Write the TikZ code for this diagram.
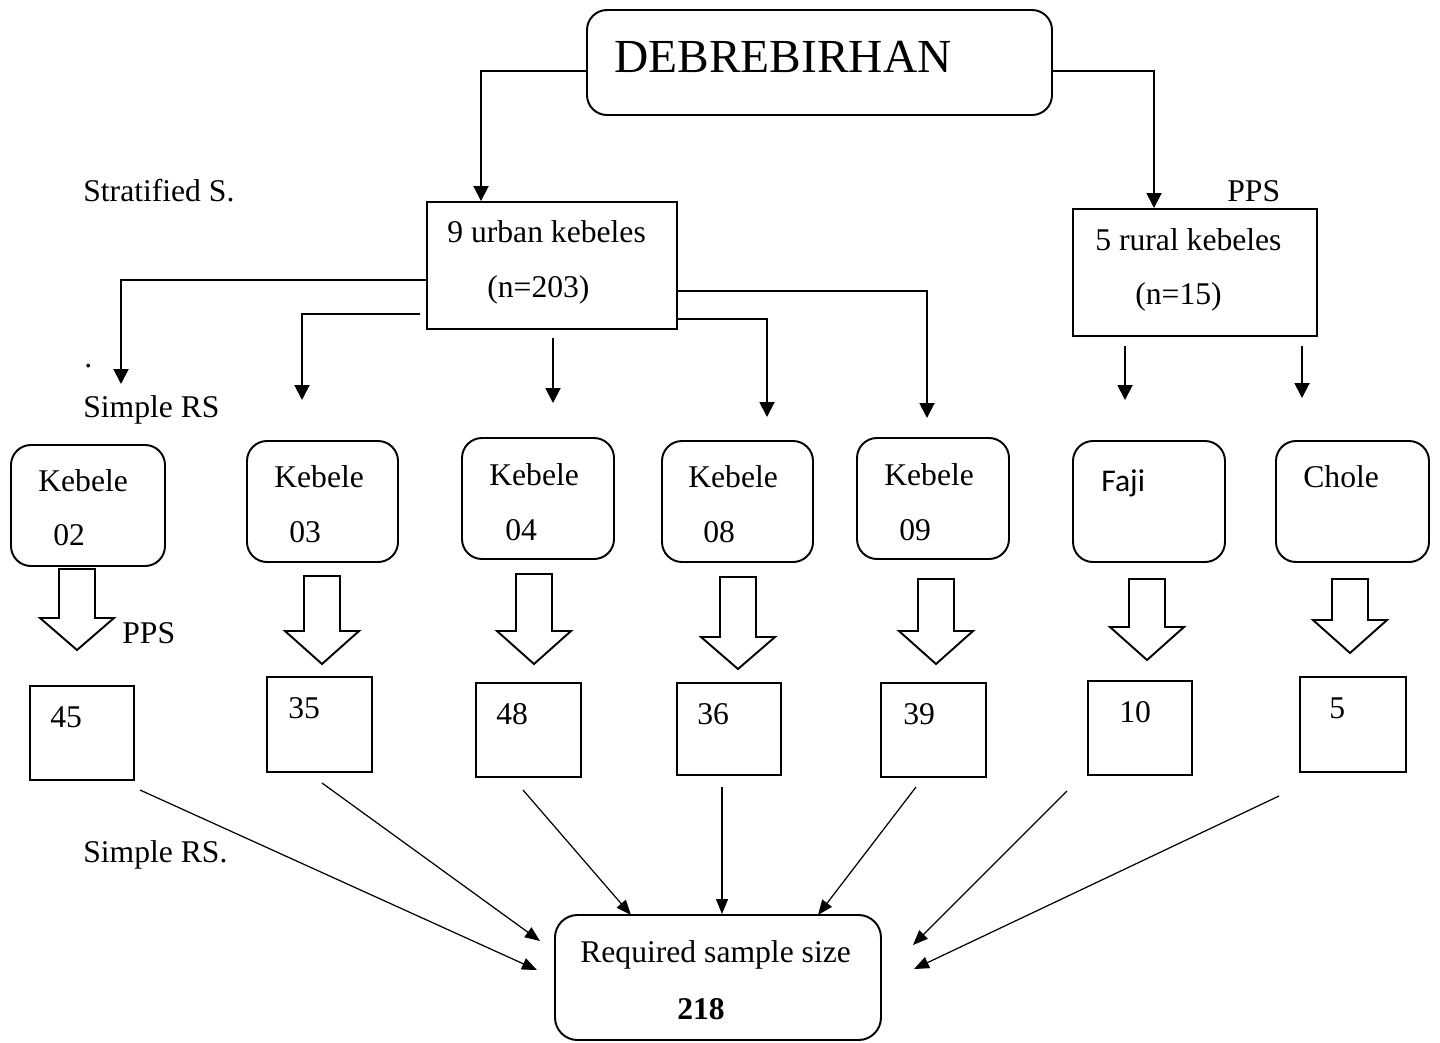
\documentclass[tikz,border=0pt]{standalone}
\usepackage{fontspec}
\setmainfont{Liberation Serif}
\newfontfamily\fajifont{Carlito}
\usetikzlibrary{arrows.meta}
\newcommand\blockarr[4]{\draw[blk] ({#1-18},#2) -- ({#1-18},#3) -- ({#1-37},#3) -- (#1,#4) -- ({#1+37},#3) -- ({#1+18},#3) -- ({#1+18},#2) -- cycle;}
\begin{document}
\begin{tikzpicture}[x=0.02cm,y=-0.02cm,
  bx/.style 2 args={draw,line width=1.1pt,inner sep=0pt,minimum width=#1*0.02cm,minimum height=#2*0.02cm},
  rbx/.style 2 args={bx={#1}{#2},rounded corners=0.4cm},
  txt/.style={inner sep=0pt,anchor=west,font=\fontsize{18}{20}\selectfont},
  arr/.style={line width=1.1pt,-{Triangle[length=0.3cm,width=0.3cm]}},
  thinarr/.style={line width=0.7pt,-{Triangle[length=0.3cm,width=0.24cm]}},
  blk/.style={line width=1.1pt,line join=miter}]
\useasboundingbox (0,0) rectangle (1440,1042);

% main boxes
\node[rbx={465}{105}] (debre) at (819.5,62.5) {};
\node[txt,font=\fontsize{27}{30}\selectfont] (debret) at (614,57) {DEBREBIRHAN};
\node[bx={250}{127}] (urban) at (552,265.5) {};
\node[bx={244}{127}] (rural) at (1195,272.5) {};
\node[txt] (urt1) at (447,232) {9 urban kebeles};
\node[txt] (urt2) at (487,290) {(n=203)};
\node[txt] (rut1) at (1095,240) {5 rural kebeles};
\node[txt] (rut2) at (1135,297) {(n=15)};
\node[txt] (pps1) at (1227,191) {PPS};
\node[txt] (strat) at (83,191) {Stratified S.};
\node[txt,anchor=base west] (dot) at (84,367) {.};
\node[txt] (srs1) at (83,410) {Simple RS};
\node[txt] (pps2) at (122,633) {PPS};
\node[txt] (srs2) at (83,855) {Simple RS.};

% top connectors
\draw[arr] (debre.west |- 0,71) -| (urban.north -| 481,0);
\draw[arr] (debre.east |- 0,71) -| (rural.north -| 1154,0);

% urban branches
\coordinate (e02) at (121,384);
\coordinate (s03) at (420,314);
\coordinate (e03) at (302,400);
\coordinate (s04) at (553,338);
\coordinate (e04) at (553,403);
\coordinate (e08) at (767,417);
\coordinate (e09) at (927,418);
\draw[arr] (urban.west |- 0,280) -| (e02);
\draw[arr] (s03) -| (e03);
\draw[arr] (s04) -- (e04);
\draw[arr] (urban.east |- 0,291) -| (e09);
\draw[arr] (urban.east |- 0,319) -| (e08);
% rural branches
\coordinate (sfa) at (1125,346);
\coordinate (efa) at (1125,400);
\coordinate (sch) at (1302,346);
\coordinate (ech) at (1302,398);
\draw[arr] (sfa) -- (efa);
\draw[arr] (sch) -- (ech);

% kebele boxes
\node[rbx={154}{121}] (k02) at (88,505.5) {};
\node[rbx={151}{121}] (k03) at (322.5,501.5) {};
\node[rbx={152}{121}] (k04) at (538,498.5) {};
\node[rbx={151}{121}] (k08) at (737.5,501.5) {};
\node[rbx={152}{121}] (k09) at (933,498.5) {};
\node[rbx={152}{121}] (kfa) at (1149,501.5) {};
\node[rbx={153}{121}] (kch) at (1352.5,501.5) {};
\node[txt] (k02a) at (38,481) {Kebele};
\node[txt] (k02b) at (53,535) {02};
\node[txt] (k03a) at (274,477) {Kebele};
\node[txt] (k03b) at (289,532) {03};
\node[txt] (k04a) at (489,475) {Kebele};
\node[txt] (k04b) at (505,530) {04};
\node[txt] (k08a) at (688,477) {Kebele};
\node[txt] (k08b) at (703,532) {08};
\node[txt] (k09a) at (884,475) {Kebele};
\node[txt] (k09b) at (899,530) {09};
\node[txt,font=\fajifont\fontsize{18}{20}\selectfont] (kfaa) at (1101,483) {Faji};
\node[txt] (kcha) at (1303,477) {Chole};

% block arrows
\blockarr{77}{569}{618}{650}
\blockarr{322}{576}{631}{664}
\blockarr{534}{574}{631}{664}
\blockarr{738}{577}{637}{669}
\blockarr{936}{579}{631}{664}
\blockarr{1147}{579}{627}{660}
\blockarr{1350}{579}{620}{653}

% number boxes
\node[bx={104}{94}] (n45) at (82,733) {};
\node[bx={105}{95}] (n35) at (319.5,724.5) {};
\node[bx={105}{94}] (n48) at (528.5,730) {};
\node[bx={104}{92}] (n36) at (729,729) {};
\node[bx={105}{94}] (n39) at (933.5,730) {};
\node[bx={104}{94}] (n10) at (1140,728) {};
\node[bx={106}{95}] (n5) at (1353,724.5) {};
\node[txt] (t45) at (50,717) {45};
\node[txt] (t35) at (288,708) {35};
\node[txt] (t48) at (496,714) {48};
\node[txt] (t36) at (697,714) {36};
\node[txt] (t39) at (903,714) {39};
\node[txt] (t10) at (1119,712) {10};
\node[txt] (t5) at (1329,708) {5};

% required box
\node[bx={326}{125},rounded corners=0.45cm] (req) at (718,977.5) {};
\node[txt] (reqa) at (580,955) {Required sample size};
\node[txt,font=\bfseries\fontsize{18}{20}\selectfont] (reqb) at (677,1009) {218};

% converging arrows
\coordinate (c1s) at (140,790);  \coordinate (c1e) at (537,970);
\coordinate (c2s) at (322,783);  \coordinate (c2e) at (540,941);
\coordinate (c3s) at (523,790);  \coordinate (c3e) at (631,915);
\coordinate (c4s) at (722,787);  \coordinate (c4e) at (722,914);
\coordinate (c5s) at (916,787);  \coordinate (c5e) at (818,915);
\coordinate (c6s) at (1067,791); \coordinate (c6e) at (913,945);
\coordinate (c7s) at (1279,796); \coordinate (c7e) at (914,969);
\foreach \i in {1,...,7} {\draw[thinarr] (c\i s) -- (c\i e);}
\end{tikzpicture}
\end{document}
